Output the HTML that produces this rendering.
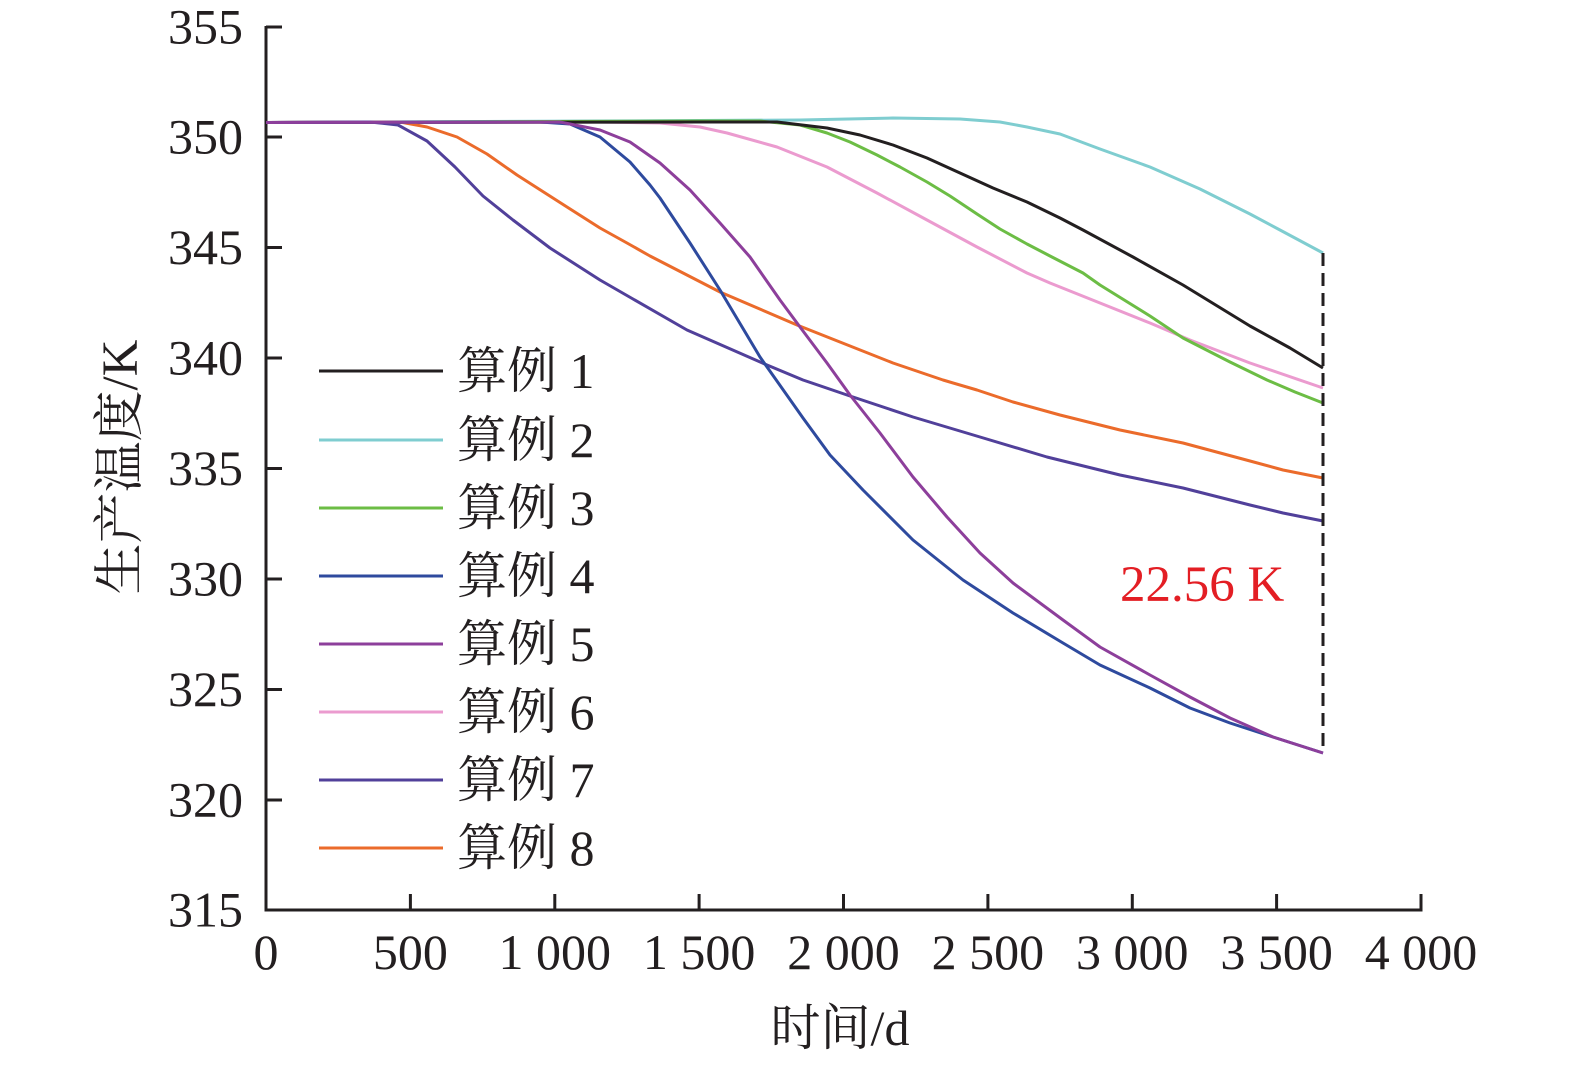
<!DOCTYPE html>
<html>
<head>
<meta charset="utf-8">
<style>
html,body{margin:0;padding:0;background:#fff;}
svg{display:block;}
text{font-family:"Liberation Serif","Noto Serif CJK SC",serif;fill:#231f20;}
</style>
</head>
<body>
<svg width="1575" height="1069" viewBox="0 0 1575 1069" xmlns="http://www.w3.org/2000/svg">
<rect width="1575" height="1069" fill="#fff"/>

<!-- axes -->
<g stroke="#231f20" stroke-width="3" fill="none">
  <polyline points="266,26 266,910 1421,910"/>
  <!-- y ticks -->
  <line x1="266" y1="27" x2="282" y2="27"/>
  <line x1="266" y1="137" x2="282" y2="137"/>
  <line x1="266" y1="247.5" x2="282" y2="247.5"/>
  <line x1="266" y1="358" x2="282" y2="358"/>
  <line x1="266" y1="468.5" x2="282" y2="468.5"/>
  <line x1="266" y1="579" x2="282" y2="579"/>
  <line x1="266" y1="689.5" x2="282" y2="689.5"/>
  <line x1="266" y1="800" x2="282" y2="800"/>
  <!-- x ticks -->
  <line x1="410.4" y1="910" x2="410.4" y2="894"/>
  <line x1="554.8" y1="910" x2="554.8" y2="894"/>
  <line x1="699.1" y1="910" x2="699.1" y2="894"/>
  <line x1="843.5" y1="910" x2="843.5" y2="894"/>
  <line x1="987.9" y1="910" x2="987.9" y2="894"/>
  <line x1="1132.3" y1="910" x2="1132.3" y2="894"/>
  <line x1="1276.6" y1="910" x2="1276.6" y2="894"/>
  <line x1="1421" y1="911.5" x2="1421" y2="894"/>
</g>

<!-- y tick labels -->
<g font-size="50" text-anchor="end">
  <text x="243" y="43.5">355</text>
  <text x="243" y="153.5">350</text>
  <text x="243" y="264">345</text>
  <text x="243" y="374.5">340</text>
  <text x="243" y="485">335</text>
  <text x="243" y="595.5">330</text>
  <text x="243" y="706">325</text>
  <text x="243" y="816.5">320</text>
  <text x="243" y="926.5">315</text>
</g>

<!-- x tick labels -->
<g font-size="50" text-anchor="middle">
  <text x="266" y="969">0</text>
  <text x="410.4" y="969">500</text>
  <text x="554.8" y="969">1 000</text>
  <text x="699.1" y="969">1 500</text>
  <text x="843.5" y="969">2 000</text>
  <text x="987.9" y="969">2 500</text>
  <text x="1132.3" y="969">3 000</text>
  <text x="1276.6" y="969">3 500</text>
  <text x="1421" y="969">4 000</text>
</g>

<!-- axis titles -->
<text x="840" y="1045" font-size="50" text-anchor="middle">时间/d</text>
<text transform="translate(137,467) rotate(-90)" font-size="51" text-anchor="middle">生产温度/K</text>

<!-- series -->
<g fill="none" stroke-width="3" stroke-linejoin="round" stroke-linecap="butt">
  <!-- 2 cyan -->
  <polyline stroke="#7fcdd0" points="266,122.5 600,121 800,120 893,118 960,119 1000,122 1027,127 1060,134 1100,149 1150,167 1200,189 1250,214 1280,230 1323,253"/>
  <!-- 6 pink -->
  <polyline stroke="#eb9bcf" points="266,122.5 600,122 660,123 700,127 727,133 777,147 827,167 877,193 927,220 977,247 1027,273 1050,283 1100,303 1150,323 1190,340 1250,363 1323,388"/>
  <!-- 3 green -->
  <polyline stroke="#6cbd45" points="266,122.5 700,121 760,121 800,125 827,133 850,142 877,155 900,167 927,182 950,196 977,214 1000,229 1027,244 1050,256 1083,273 1100,285 1150,316 1183,338 1230,362 1267,380 1295,392 1323,403"/>
  <!-- 1 black -->
  <polyline stroke="#231f20" points="266,122.5 700,122 777,122 827,128 860,135 893,145 927,158 960,173 993,188 1027,202 1060,218 1083,230 1133,257 1183,285 1250,326 1290,348 1323,368"/>
  <!-- 8 orange -->
  <polyline stroke="#eb6b2b" points="266,122.5 400,122 427,127 457,137 487,154 517,175 567,207 600,228 627,243 650,256 720,292 797,325 893,363 943,380 977,390 1013,402 1060,415 1120,430 1183,443 1250,461 1283,470 1323,478"/>
  <!-- 7 indigo -->
  <polyline stroke="#51409a" points="266,122.5 370,122 398,125 427,141 455,167 483,196 513,220 550,248 600,280 633,299 687,330 767,365 803,380 850,396 913,417 980,437 1047,457 1120,475 1183,488 1250,505 1283,513 1323,521"/>
  <!-- 4 blue -->
  <polyline stroke="#2e4a9e" points="266,122.5 540,122 570,124 600,137 630,162 650,185 660,198 690,243 720,290 760,357 803,418 830,455 863,490 913,540 963,580 1013,613 1063,643 1100,665 1150,688 1190,708 1230,723 1273,737 1323,753"/>
  <!-- 5 purple -->
  <polyline stroke="#8d3f9b" points="266,122.5 560,122 600,130 630,142 660,163 690,190 720,223 750,257 780,300 800,327 827,363 850,395 880,433 913,477 947,517 980,553 1013,583 1063,620 1100,647 1150,675 1190,697 1230,718 1273,737 1323,753"/>
</g>

<!-- dashed marker -->
<line x1="1323" y1="253" x2="1323" y2="753" stroke="#231f20" stroke-width="3" stroke-dasharray="13 7"/>
<text x="1120" y="601" font-size="51" style="fill:#e31e24">22.56 K</text>

<!-- legend -->
<g stroke-width="3">
  <line x1="319" y1="371" x2="443" y2="371" stroke="#231f20"/>
  <line x1="319" y1="440" x2="443" y2="440" stroke="#7fcdd0"/>
  <line x1="319" y1="508" x2="443" y2="508" stroke="#6cbd45"/>
  <line x1="319" y1="576" x2="443" y2="576" stroke="#2e4a9e"/>
  <line x1="319" y1="644" x2="443" y2="644" stroke="#8d3f9b"/>
  <line x1="319" y1="712" x2="443" y2="712" stroke="#eb9bcf"/>
  <line x1="319" y1="780" x2="443" y2="780" stroke="#51409a"/>
  <line x1="319" y1="848" x2="443" y2="848" stroke="#eb6b2b"/>
</g>
<g font-size="50">
  <text x="457" y="388">算例 1</text>
  <text x="457" y="457">算例 2</text>
  <text x="457" y="525">算例 3</text>
  <text x="457" y="593">算例 4</text>
  <text x="457" y="661">算例 5</text>
  <text x="457" y="729">算例 6</text>
  <text x="457" y="797">算例 7</text>
  <text x="457" y="865">算例 8</text>
</g>
</svg>
</body>
</html>
